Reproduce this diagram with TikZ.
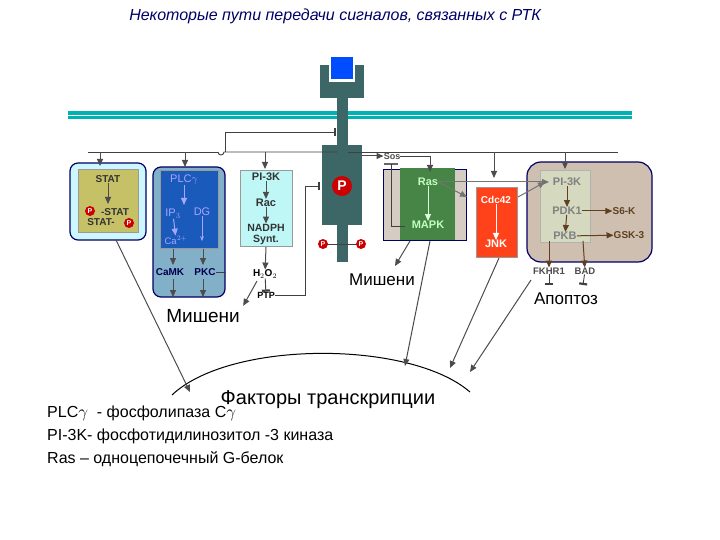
\documentclass[tikz,border=0pt]{standalone}
\usepackage{fontspec}
\setmainfont{Liberation Sans}
\usetikzlibrary{arrows.meta}
\begin{document}
\begin{tikzpicture}[x=1pt,y=-1pt,
 ar/.style={-{Triangle[width=6pt,length=7pt]},line width=1pt,draw=black!70},
 thin/.style={line width=0.9pt,draw=black!75},
 inh/.style={-{Bar[width=8pt,line width=2.2pt]},line width=0.9pt,draw=black!75},
 lbl/.style={font=\bfseries\fontsize{11}{12}\selectfont,inner sep=0pt},
 pc/.style={circle,fill=red!80!black,text=white,font=\bfseries\fontsize{7}{7}\selectfont,inner sep=0.5pt,minimum size=10pt}]
\useasboundingbox (0,0) rectangle (720,540);
\node[font=\itshape\fontsize{16}{18}\selectfont,text=black!60!blue] (title) at (335,16) {Некоторые пути передачи сигналов, связанных с РТК};
% membrane
\fill[teal!60!cyan] (68,111) rectangle (632,119);
\draw[white,line width=0.6pt] (68,115)--(632,115);
% receptor
\fill[gray!60!teal!80!black] (320,65) rectangle (364,98);
\fill[white] (329,65) rectangle (355,82);
\fill[blue!70!cyan] (331,57) rectangle (353,79);
\fill[gray!60!teal!80!black] (337,98) rectangle (348,262);
\fill[gray!60!teal!80!black] (322,145) rectangle (362,225);
\node[pc,minimum size=20pt,font=\bfseries\fontsize{14}{14}\selectfont] (pmain) at (342,186) {P};
\draw[thin] (326,244)--(358,244);
\node[pc] (p1) at (323,244) {P};
\node[pc] (p2) at (361,244) {P};
% boxes
\draw[fill=blue!15!cyan!20,draw=blue!40!black,line width=1.2pt,rounded corners=8pt] (70,163) rectangle (146,240);
\node[fill=olive!40!yellow!60!gray!80,draw=black!40,minimum width=60pt,minimum height=63pt] (statbox) at (108,201) {};
\draw[fill=blue!35!cyan!40!gray!70,draw=blue!40!black,line width=1.2pt,rounded corners=8pt] (153,167) rectangle (225,297);
\node[fill=blue!60!cyan!70!black!90,draw=black!40,minimum width=58pt,minimum height=78pt] (plcbox) at (189,209) {};
\node[fill=teal!25!cyan!25,draw=black!40,minimum width=52pt,minimum height=76pt] (pibox) at (266,208) {};
\node[fill=brown!35!gray!40,draw=blue!40!black,line width=1pt,minimum width=83pt,minimum height=70pt] (rasout) at (424.5,205) {};
\node[fill=green!45!black!60!gray!90,minimum width=55pt,minimum height=72pt] (rasbox) at (427.5,204) {};
\node[fill=red!65!orange!90,draw=black!40,minimum width=41pt,minimum height=70pt] (cdcbox) at (496.5,222) {};
\draw[fill=brown!45!gray!50,draw=blue!40!black,line width=1.2pt,rounded corners=14pt] (527,162) rectangle (652,262);
\node[fill=teal!25!gray!35!olive!30,draw=black!30,minimum width=50pt,minimum height=72pt] (pi2box) at (565,206) {};
% STAT texts
\node[lbl,text=black!80,font=\bfseries\fontsize{10}{11}\selectfont] (stat) at (108,179) {STAT};
\node[lbl,text=black!80,font=\bfseries\fontsize{10}{11}\selectfont] (pstat) at (115,212) {-STAT};
\node[lbl,text=black!80,font=\bfseries\fontsize{10}{11}\selectfont] (stat2) at (101,222) {STAT-};
\node[pc] (pp1) at (90,211) {P};
\node[pc] (pp2) at (129,223) {P};
\draw[ar] (stat)--(108,204);
% PLC
\node[lbl,text=white!65!blue,font=\fontsize{11}{12}\selectfont] (plc) at (184,180) {PLC$\gamma$};
\node[lbl,text=white!65!blue,font=\fontsize{11}{12}\selectfont] (ip3) at (173,214) {IP$_3$};
\node[lbl,text=white!65!blue,font=\fontsize{11}{12}\selectfont] (dg) at (202,212) {DG};
\node[lbl,text=white!65!blue,font=\fontsize{9.5}{10}\selectfont] (ca) at (176,240) {Ca$^{2+}$};
\draw[ar,draw=white!65!blue] (plc)--(184,205);
\draw[ar,draw=white!65!blue] (ip3)--(ca);
\draw[-{Stealth},white!65!blue] (dg)--(202,241);
\node[lbl,text=blue!30!black,font=\bfseries\fontsize{10}{11}\selectfont] (camk) at (170,272) {CaMK};
\node[lbl,text=blue!30!black,font=\bfseries\fontsize{10}{11}\selectfont] (pkc) at (205,272) {PKC};
\draw[ar] (173,249)--(173,265);
\draw[ar] (203,249)--(203,265);
\draw[ar] (173,279)--(173,297);
\draw[ar] (203,279)--(203,297);
% PI-3K
\node[lbl,text=black!80] (pi3k) at (266,177) {PI-3K};
\node[lbl,text=black!80] (rac) at (266,203) {Rac};
\node[lbl,text=black!80,align=center,font=\bfseries\fontsize{10.5}{11}\selectfont] (nadph) at (266,234) {NADPH\\Synt.};
\draw[ar] (pi3k)--(rac);
\draw[ar] (rac)--(nadph);
\node[lbl,font=\bfseries\fontsize{10}{11}\selectfont] (h2o2) at (265,274) {H$_2$O$_2$};
\node[lbl,font=\bfseries\fontsize{9}{10}\selectfont] (ptp) at (266,295) {PTP};
\draw[ar] (266,247)--(h2o2);
\draw[inh] (h2o2)--(ptp);
\draw[thin] (pkc.east)--(226,272);
\node[font=\fontsize{19}{21}\selectfont] (mish1) at (203,316) {Мишени};
\draw[ar] (257,281)--(mish1.north east);
% PTP inhibit main
\draw[inh] (ptp.east)--(305,295)--(305,186)--(320,186);
% top line
\draw[thin] (88,152)--(218,152);
\draw[thin] (218,152) arc (180:0:3)--(337,152);
\draw[thin] (348,152)--(618,152);
\draw[inh] (225,152)--(225,132)--(336,132);
\draw[ar] (100,152)--(100,166);
\draw[ar] (185,152)--(185,167);
\draw[ar] (265,152)--(265,169);
% Sos
\node[lbl,font=\bfseries\fontsize{9}{10}\selectfont,text=black!70] (sos) at (392,156) {Sos};
\draw[ar] (362,156)--(sos.west);
\draw[thin] (sos.east)--(430,156);
\draw[ar] (430,156)--(430,172);
\draw[ar] (494,152)--(494,178);
\draw[ar] (565,152)--(565,169);
\draw[line width=1.4pt,black!60] (384,164)--(398,164);
\draw[thin] (391,164)--(391,226)--(405,226);
% Ras
\node[lbl,text=green!25!white] (ras) at (428,182) {Ras};
\node[lbl,text=green!25!white] (mapk) at (428,225) {MAPK};
\draw[ar,draw=green!15!white] (ras)--(mapk);
\node[lbl,text=white,font=\bfseries\fontsize{10}{11}\selectfont] (cdc) at (496,200) {Cdc42};
\node[lbl,text=white] (jnk) at (496,244) {JNK};
\draw[ar,draw=white] (cdc)--(jnk);
\draw[ar,draw=black!55] (ras.east)--(467,197);
\draw[ar,draw=black!55] (ras.east)--(549,182);
\draw[ar,draw=black!55] (518,197)--(545,182);
% PI3K right
\node[lbl,text=black!50] (pi3k2) at (567,182) {PI-3K};
\node[lbl,text=black!50] (pdk) at (567,211) {PDK1};
\node[lbl,text=black!50] (pkb) at (565,236) {PKB};
\node[lbl,text=brown!50!black,font=\bfseries\fontsize{10}{11}\selectfont] (s6k) at (624,211) {S6-K};
\node[lbl,text=brown!50!black,font=\bfseries\fontsize{10}{11}\selectfont] (gsk) at (629,235) {GSK-3};
\draw[ar,draw=brown!50!black] (pi3k2)--(pdk);
\draw[ar,draw=brown!50!black] (pdk)--(pkb);
\draw[ar,draw=brown!50!black] (pdk)--(s6k);
\draw[ar,draw=brown!50!black] (pkb)--(gsk);
\node[lbl,font=\bfseries\fontsize{9.5}{10}\selectfont,text=black!70] (fkhr) at (549,271) {FKHR1};
\node[lbl,font=\bfseries\fontsize{9.5}{10}\selectfont,text=black!70] (bad) at (585,271) {BAD};
\draw[ar,draw=brown!50!black] (549,241)--(fkhr);
\draw[ar,draw=brown!50!black] (583,241)--(bad);
\node[font=\fontsize{17}{19}\selectfont] (apop) at (566,299) {Апоптоз};
\draw[inh] (fkhr)--(549,285);
\draw[inh] (bad)--(583,285);
\node[font=\fontsize{17}{19}\selectfont] (mish2) at (382,280) {Мишени};
\draw[ar] (410,241)--(395,266);
% transcription arc
\draw[line width=1pt] (172,395) .. controls (230,340) and (410,340) .. (470,392);
\node[font=\fontsize{20}{22}\selectfont] (tf) at (328,400) {Факторы транскрипции};
\draw[ar] (116,240)--(190,392);
\draw[ar] (430,241)--(405,366);
\draw[ar] (499,258)--(450,368);
\draw[ar] (531,280)--(470,372);
% legend
\node[anchor=west,font=\fontsize{16}{23}\selectfont,align=left,inner sep=0pt] (leg) at (47,436) {PLC$\gamma$ \ - фосфолипаза С$\gamma$\\PI-3K- фосфотидилинозитол -3 киназа\\Ras -- одноцепочечный G-белок};
\end{tikzpicture}
\end{document}
